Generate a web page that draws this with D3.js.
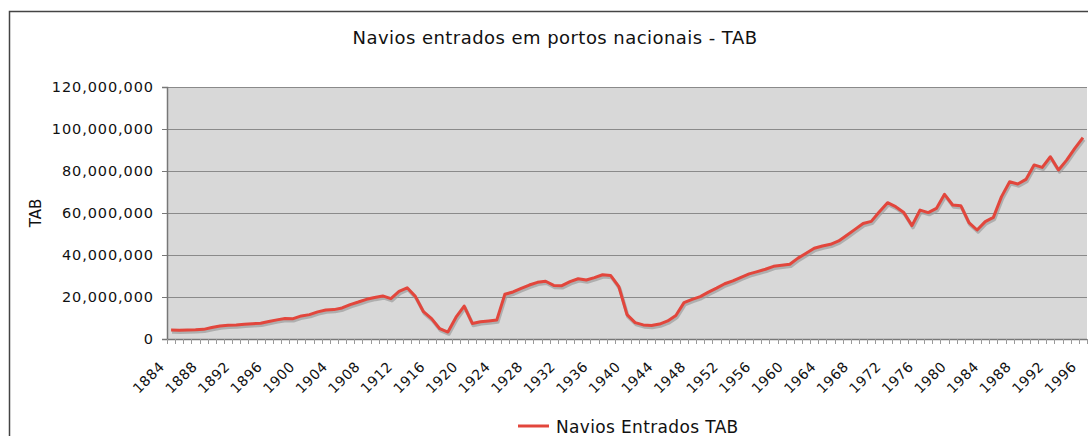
<!DOCTYPE html>
<html>
<head>
<meta charset="utf-8">
<script src="https://cdn.jsdelivr.net/npm/d3@7"></script>
<style>
  html, body { margin: 0; padding: 0; background: #fff; }
  svg { display: block; }
  text { font-family: "DejaVu Sans", Verdana, sans-serif; fill: #111; }
</style>
</head>
<body>
<svg id="chart" width="1088" height="436"></svg>
<script>
const title = "Navios entrados em portos nacionais - TAB";
const seriesName = "Navios Entrados TAB";
const yAxisTitle = "TAB";
const years = d3.range(1884, 1997);
const values = [
  4.3, 4.2, 4.3, 4.4, 4.6, 5.5, 6.2, 6.5, 6.7, 7.0,
  7.3, 7.5, 8.3, 9.1, 9.8, 9.7, 11.0, 11.6, 12.9, 13.8,
  14.0, 14.8, 16.4, 17.6, 18.9, 19.8, 20.5, 19.2, 22.7, 24.4,
  20.3, 13.0, 9.7, 4.9, 3.3, 10.4, 15.7, 7.4, 8.2, 8.6,
  9.0, 21.3, 22.4, 24.1, 25.7, 27.0, 27.5, 25.5, 25.4, 27.3,
  28.7, 28.1, 29.2, 30.6, 30.2, 24.9, 11.6, 7.8, 6.7, 6.4,
  7.1, 8.6, 11.2, 17.3, 18.9, 20.2, 22.3, 24.2, 26.3, 27.7,
  29.4, 31.0, 32.1, 33.2, 34.6, 35.1, 35.6, 38.5, 40.8, 43.2,
  44.3, 45.1, 46.7, 49.4, 52.2, 55.0, 56.0, 60.6, 64.9, 63.0,
  60.2, 54.0, 61.4, 60.2, 62.2, 68.9, 63.8, 63.5, 55.4, 51.9,
  55.9, 57.9, 67.8, 74.9, 73.8, 76.0, 82.9, 81.7, 86.8, 80.5,
  85.2, 90.8, 95.9
].map(v => v * 1e6);
const yTicks = [0, 20e6, 40e6, 60e6, 80e6, 100e6, 120e6];
const labelYears = years.filter(yr => (yr - 1884) % 4 === 0);

const svg = d3.select("#chart");
const mLeft = 167, mRight = 1087, mTop = 87, mBottom = 339;

// outer frame
svg.append("rect")
  .attr("x", 9.5).attr("y", 11.5).attr("width", 1100).attr("height", 440)
  .attr("fill", "#fff").attr("stroke", "#444").attr("stroke-width", 1.5);

svg.append("text")
  .attr("x", 555).attr("y", 44)
  .attr("text-anchor", "middle")
  .style("font-size", "18px")
  .style("letter-spacing", "0.45px")
  .text(title);

const x = d3.scaleBand().domain(years).range([mLeft, mRight]).padding(0);
const y = d3.scaleLinear().domain([0, 120e6]).range([mBottom, mTop]);

svg.append("rect")
  .attr("x", mLeft).attr("y", mTop).attr("width", mRight - mLeft).attr("height", mBottom - mTop)
  .attr("fill", "#d8d8d8");

// gridlines
svg.append("g").selectAll("line").data(yTicks.filter(t => t > 0)).join("line")
  .attr("x1", mLeft).attr("x2", mRight)
  .attr("y1", d => Math.round(y(d)) + 0.5).attr("y2", d => Math.round(y(d)) + 0.5)
  .attr("stroke", "#8a8a8a").attr("stroke-width", 1.2);

// y axis
const yAxis = d3.axisLeft(y).tickValues(yTicks)
  .tickFormat(d3.format(",")).tickSize(5).tickPadding(8);
const gy = svg.append("g").attr("transform", `translate(${mLeft},0)`).call(yAxis);
gy.select(".domain").attr("stroke", "#777").attr("stroke-width", 1.5);
gy.selectAll(".tick line").attr("stroke", "#777");
gy.selectAll("text").style("font-size", "14.5px").style("letter-spacing", "0.9px")
  .attr("fill", "#111").style("font-family", "DejaVu Sans");

// x axis
const gx = svg.append("g").attr("transform", `translate(0,${mBottom})`);
gx.append("line").attr("x1", mLeft).attr("x2", mRight).attr("y1", 0.5).attr("y2", 0.5)
  .attr("stroke", "#777").attr("stroke-width", 1.5);
gx.selectAll("line.tk").data(years.concat([1997])).join("line").attr("class", "tk")
  .attr("x1", d => Math.round(d === 1997 ? mRight : x(d)) + 0.5)
  .attr("x2", d => Math.round(d === 1997 ? mRight : x(d)) + 0.5)
  .attr("y1", 0).attr("y2", 5)
  .attr("stroke", "#999").attr("stroke-width", 1);
gx.selectAll("text").data(labelYears).join("text")
  .attr("transform", d => `translate(${x(d) + x.bandwidth() / 2 - 9},${25}) rotate(-45)`)
  .attr("text-anchor", "end")
  .attr("dy", "0.35em")
  .style("font-size", "14px")
  .style("letter-spacing", "0.6px")
  .text(d => d);

// y axis title
svg.append("text")
  .attr("transform", `translate(41,213) rotate(-90)`)
  .attr("text-anchor", "middle")
  .style("font-size", "15px")
  .text(yAxisTitle);

// line + shadow
const line = d3.line()
  .x((d, i) => x(years[i]) + x.bandwidth() / 2)
  .y(d => y(d));
svg.append("path").datum(values)
  .attr("d", line)
  .attr("transform", "translate(1,2)")
  .attr("fill", "none").attr("stroke", "#9d9d9d").attr("stroke-opacity", 0.7)
  .attr("stroke-width", 3.5).attr("stroke-linejoin", "round");
svg.append("path").datum(values)
  .attr("d", line)
  .attr("fill", "none").attr("stroke", "#e2463c")
  .attr("stroke-width", 3).attr("stroke-linejoin", "round");

// legend
svg.append("line")
  .attr("x1", 518).attr("x2", 549).attr("y1", 426).attr("y2", 426)
  .attr("stroke", "#e2463c").attr("stroke-width", 3);
svg.append("text")
  .attr("x", 556).attr("y", 432.5)
  .style("font-size", "17px")
  .style("letter-spacing", "0.35px")
  .text(seriesName);
</script>
</body>
</html>
